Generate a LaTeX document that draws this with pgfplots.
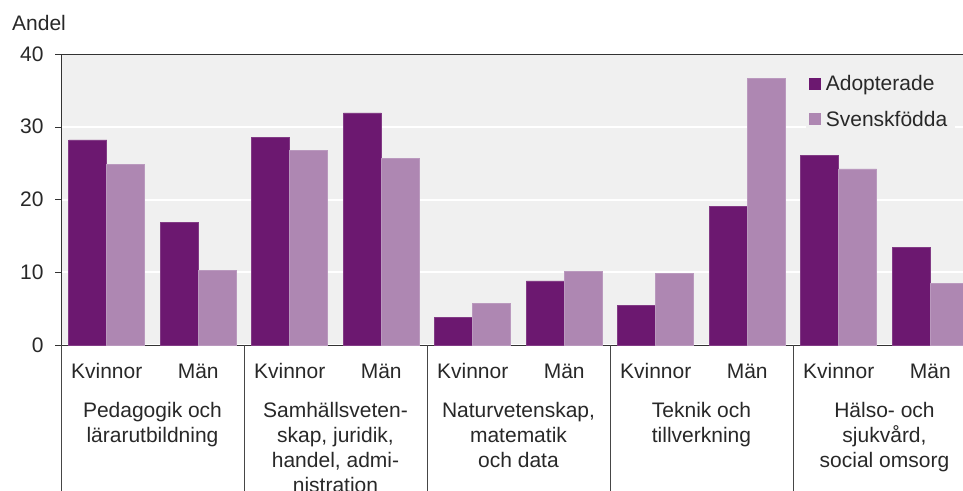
\documentclass[border=0pt]{standalone}
\usepackage{pgfplots}
\pgfplotsset{compat=1.18}
\usepackage{fontspec}
\setmainfont{Liberation Sans}
\definecolor{adopt}{RGB}{108,24,112}
\definecolor{svensk}{RGB}{174,135,178}
\definecolor{bggray}{RGB}{240,240,240}
\definecolor{txt}{RGB}{40,40,40}
\definecolor{sepcol}{RGB}{70,70,70}
\newcommand{\bigf}{\fontsize{21}{25}\selectfont}
\begin{document}
\begin{tikzpicture}
\begin{axis}[
  scale only axis,
  width=902pt, height=291pt,
  xmin=-0.5, xmax=9.358,
  ymin=0, ymax=40,
  ytick={0,10,20,30,40},
  xtick={0,...,9},
  xticklabels={Kvinnor,Män,Kvinnor,Män,Kvinnor,Män,Kvinnor,Män,Kvinnor,Män},
  axis y line*=left,
  axis x line=box,
  axis line style={draw=black!80, -},
  axis background/.style={fill=bggray},
  ymajorgrids,
  grid style={white, line width=2pt},
  tick align=outside,
  ytick pos=left,
  major tick length=6pt,
  xtick style={draw=none},
  ytick style={black!80},
  /pgf/number format/assume math mode=true,
  tick label style={font=\bigf, text=txt},
  xticklabel style={anchor=base, yshift=-27pt},
  yticklabel style={xshift=-8pt},
  clip mode=individual,
  legend style={at={(rel axis cs:0.826,0.945)}, anchor=north west, fill=bggray, draw=none,
    font=\bigf, text=txt, row sep=15pt, inner sep=3pt,
    nodes={inner xsep=5pt}},
  legend cell align=left,
]
\addplot[ybar, bar width=0.415, bar shift=-0.2075, fill=adopt, draw=adopt!85!white, line width=0.6pt,
  legend image code/.code={\fill[adopt] (0pt,-5.5pt) rectangle (11pt,5.5pt);}]
  coordinates {(0,28.2) (1,16.8) (2,28.5) (3,31.9) (4,3.8) (5,8.8) (6,5.4) (7,19.1) (8,26.1) (9,13.4)};
\addlegendentry{Adopterade}
\addplot[ybar, bar width=0.415, bar shift=0.2075, fill=svensk, draw=svensk!85!white, line width=0.6pt,
  legend image code/.code={\fill[svensk] (0pt,-5.5pt) rectangle (11pt,5.5pt);}]
  coordinates {(0,24.8) (1,10.2) (2,26.7) (3,25.6) (4,5.7) (5,10.1) (6,9.8) (7,36.7) (8,24.2) (9,8.5)};
\addlegendentry{Svenskfödda}
\coordinate (O) at (rel axis cs:0,0);
\pgfplotsinvokeforeach{-0.5,1.5,3.5,5.5,7.5}{
  \draw[sepcol, line width=0.8pt] (axis cs:#1,0) -- ([yshift=-150pt]axis cs:#1,0);
}
\node[anchor=north, align=center, font=\bigf, text=txt, inner sep=0pt] at (axis cs:0.5,0) [yshift=-57pt] {Pedagogik och\\lärarutbildning};
\node[anchor=north, align=center, font=\bigf, text=txt, inner sep=0pt] at (axis cs:2.5,0) [yshift=-57pt] {Samhällsveten-\\skap, juridik,\\handel, admi-\\nistration};
\node[anchor=north, align=center, font=\bigf, text=txt, inner sep=0pt] at (axis cs:4.5,0) [yshift=-57pt] {Naturvetenskap,\\matematik\\och data};
\node[anchor=north, align=center, font=\bigf, text=txt, inner sep=0pt] at (axis cs:6.5,0) [yshift=-57pt] {Teknik och\\tillverkning};
\node[anchor=north, align=center, font=\bigf, text=txt, inner sep=0pt] at (axis cs:8.5,0) [yshift=-57pt] {Hälso- och\\sjukvård,\\social omsorg};
\node[anchor=base west, font=\bigf, text=txt, inner sep=0pt] at (rel axis cs:0,1) [xshift=-49pt, yshift=24pt] {Andel};
\end{axis}
\pgfresetboundingbox
\path (O) ++(-61pt,-145pt) rectangle ++(963pt,490pt);
\end{tikzpicture}
\end{document}
